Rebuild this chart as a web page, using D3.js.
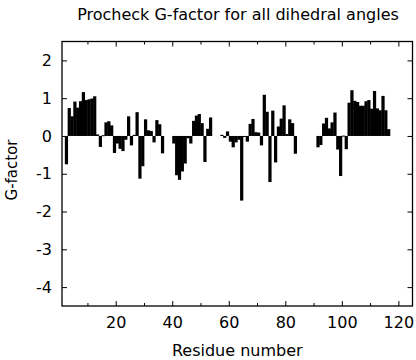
<!DOCTYPE html>
<html>
<head>
<meta charset="utf-8">
<script src="https://cdn.jsdelivr.net/npm/d3@7"></script>
<style>
  body { margin: 0; background: #fff; }
  svg text { font-family: "DejaVu Sans", sans-serif; fill: #000; }
</style>
</head>
<body>
<div id="chart"></div>
<script>
// G-factor per residue (null = no value), residue 1..116
const gFactor = [
  null, -0.75, 0.74, 0.52, 0.91, 0.75, 0.92, 1.16, 0.95, 0.97,
  0.99, 1.05, 0.04, -0.29, 0.02, 0.36, 0.39, 0.28, -0.45, -0.2,
  -0.34, -0.4, -0.1, 0.52, -0.25, 0.03, 0.63, -1.13, -0.8, 0.44,
  0.15, 0.13, -0.17, 0.42, 0.31, -0.46, null, null, null, -0.2,
  -1.04, -1.16, -0.94, -0.73, -0.06, -0.2, 0.4, 0.54, 0.58, 0.34,
  -0.69, 0.19, 0.49, null, null, null, 0.03, -0.05, 0.12, -0.15,
  -0.3, -0.17, -0.1, -1.71, -0.02, -0.15, 0.32, 0.45, 0.1, 0.09,
  -0.25, 1.09, 0.64, -1.22, 0.67, -0.7, 0.25, 0.46, 0.81, 0.05,
  0.44, 0.34, -0.47, null, null, null, null, null, null, null,
  -0.3, -0.24, 0.33, 0.48, 0.2, 0.36, 0.62, -0.36, -1.06, 0.01,
  -0.35, 0.88, 1.21, 0.93, 0.9, 0.8, 0.8, 0.92, 0.95, 0.72,
  1.19, 0.73, 0.68, 1.06, 0.68, 0.18
];
const residues = gFactor.map((v, i) => i + 1);

const xMajorTicks = [20, 40, 60, 80, 100, 120];
const xMinorTicks = [10, 30, 50, 70, 90, 110];
const yTicks = [2, 1, 0, -1, -2, -3, -4];

const titleText = "Procheck G-factor for all dihedral angles";
const xLabel = "Residue number";
const yLabel = "G-factor";

const W = 416, H = 360;
const plotL = 62, plotR = 412.5, plotT = 41.5, plotB = 306;

const svg = d3.select("#chart").append("svg")
  .attr("width", W).attr("height", H);

const x = d3.scaleLinear().domain([1, 125]).range([plotL, plotR]);
const y = d3.scaleLinear().domain([-4.5, 2.5]).range([plotB, plotT]);

// bars (slight overlap so neighbours merge into solid blocks)
const data = residues.map((r, i) => ({ r: r, v: gFactor[i] })).filter(d => d.v !== null);
svg.append("g").selectAll("rect")
  .data(data)
  .enter()
  .append("rect")
  .attr("x", d => x(d.r))
  .attr("width", d => x(d.r + 1) - x(d.r) + 0.4)
  .attr("y", d => y(Math.max(0, d.v)))
  .attr("height", d => Math.max(1, Math.abs(y(d.v) - y(0))))
  .attr("fill", "#000");

// axes (ticks pointing inward)
const plainFmt = d => String(d);
function styleAxis(g) {
  g.select(".domain").remove();
  g.selectAll(".tick line").attr("stroke", "#000").attr("stroke-width", 1);
  g.selectAll(".tick text").style("font-size", "16px");
}

svg.append("g").attr("transform", `translate(0,${plotB})`)
  .call(d3.axisBottom(x).tickValues(xMajorTicks).tickFormat(plainFmt).tickSizeInner(-5).tickSizeOuter(0).tickPadding(11))
  .call(styleAxis);
svg.append("g").attr("transform", `translate(0,${plotB})`)
  .call(d3.axisBottom(x).tickValues(xMinorTicks).tickSizeInner(-3).tickSizeOuter(0).tickFormat(""))
  .call(styleAxis);
svg.append("g").attr("transform", `translate(0,${plotT})`)
  .call(d3.axisTop(x).tickValues(xMajorTicks).tickSizeInner(-5).tickSizeOuter(0).tickFormat(""))
  .call(styleAxis);
svg.append("g").attr("transform", `translate(0,${plotT})`)
  .call(d3.axisTop(x).tickValues(xMinorTicks).tickSizeInner(-3).tickSizeOuter(0).tickFormat(""))
  .call(styleAxis);
svg.append("g").attr("transform", `translate(${plotL},0)`)
  .call(d3.axisLeft(y).tickValues(yTicks).tickFormat(plainFmt).tickSizeInner(-5).tickSizeOuter(0).tickPadding(10))
  .call(styleAxis);
svg.append("g").attr("transform", `translate(${plotR},0)`)
  .call(d3.axisRight(y).tickValues(yTicks).tickSizeInner(-5).tickSizeOuter(0).tickFormat(""))
  .call(styleAxis);

// frame
svg.append("rect")
  .attr("x", plotL).attr("y", plotT)
  .attr("width", plotR - plotL).attr("height", plotB - plotT)
  .attr("fill", "none").attr("stroke", "#000").attr("stroke-width", 1.3);

// labels
svg.append("text")
  .attr("x", 238).attr("y", 19.5)
  .attr("text-anchor", "middle")
  .style("font-size", "16px")
  .text(titleText);

svg.append("text")
  .attr("x", (plotL + plotR) / 2).attr("y", 356)
  .attr("text-anchor", "middle")
  .style("font-size", "16px")
  .text(xLabel);

svg.append("text")
  .attr("transform", "translate(17,170) rotate(-90)")
  .attr("text-anchor", "middle")
  .style("font-size", "15px")
  .text(yLabel);
</script>
</body>
</html>
